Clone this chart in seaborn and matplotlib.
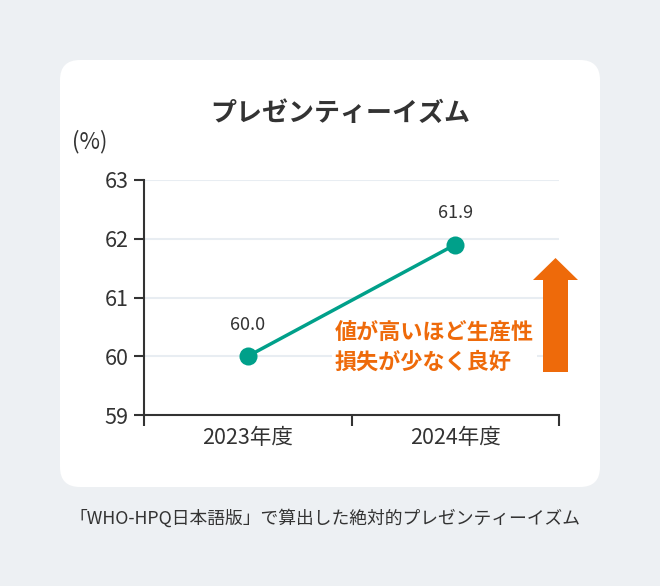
import matplotlib
matplotlib.use("Agg")
import matplotlib.pyplot as plt
import seaborn as sns
import pandas as pd
from matplotlib.patches import FancyBboxPatch, Polygon
from matplotlib.ticker import FixedLocator

# ---- data ----
years = ["2023年度", "2024年度"]
values = [60.0, 61.9]
y_ticks = [59, 60, 61, 62, 63]
title = "プレゼンティーイズム"
unit_label = "(%)"
note_text = "値が高いほど生産性\n損失が少なく良好"
caption = "「WHO-HPQ日本語版」で算出した絶対的プレゼンティーイズム"

sns.set_theme(style="white")
plt.rcParams["font.family"] = ["Noto Sans CJK JP", "DejaVu Sans"]

BG = "#edf0f3"
TEAL = "#00a08a"
ORANGE = "#ee6a0a"
DARK = "#333333"
GRID = "#e8edf2"

W, H = 660, 586
fig = plt.figure(figsize=(W / 100, H / 100), dpi=100, facecolor=BG)

# white card
card = FancyBboxPatch((60, H - 487), 540, 427,
                      boxstyle="round,pad=0,rounding_size=20",
                      transform=None, facecolor="white", edgecolor="none", zorder=-5)
fig.patches.append(card)

ax = fig.add_axes([144 / W, 1 - 415 / H, (559 - 144) / W, (415 - 180) / H])
ax.set_facecolor("none")
ax.set_zorder(2)

df = pd.DataFrame({"year": years, "value": values})
sns.lineplot(data=df, x="year", y="value", ax=ax, color=TEAL, linewidth=2.5,
             marker="o", markersize=13, markeredgewidth=0, zorder=3)

ax.set_xlim(-0.5, len(years) - 0.5)
ax.set_ylim(min(y_ticks), max(y_ticks))
ax.set_yticks(y_ticks)
ax.set_xticks(range(len(years)))
ax.set_xticklabels(years)
ax.xaxis.set_minor_locator(FixedLocator([i - 0.5 for i in range(len(years) + 1)]))
ax.set_xlabel("")
ax.set_ylabel("")

ax.tick_params(axis="x", which="major", bottom=True, length=0, pad=9,
               labelsize=15.5, labelcolor=DARK)
ax.tick_params(axis="x", which="minor", bottom=True, length=8, width=1.5,
               color=DARK, direction="out")
ax.tick_params(axis="y", which="major", left=True, length=7, width=1.5, color=DARK,
               direction="out", pad=4, labelsize=15.5, labelcolor=DARK)

for s in ["top", "right"]:
    ax.spines[s].set_visible(False)
for s in ["left", "bottom"]:
    ax.spines[s].set_color(DARK)
    ax.spines[s].set_linewidth(1.5)

ax.grid(axis="y", color=GRID, linewidth=1.5, zorder=0)
ax.set_axisbelow(True)

for i, v in enumerate(values):
    ax.annotate(f"{v:.1f}", (i, v), xytext=(0, 22.5), textcoords="offset points",
                ha="center", va="center", fontsize=13, color=DARK)

ax.text((335 - 144) / 415, (415 - 347) / 235, note_text, transform=ax.transAxes,
        ha="left", va="center", fontsize=15.9, fontweight="bold", color=ORANGE,
        linespacing=1.42, zorder=4,
        bbox=dict(facecolor="white", edgecolor="none", pad=2))

# up arrow (decoration)
arrow_px = [(543, 372), (568, 372), (568, 280), (578, 280), (555.5, 258),
            (533, 280), (543, 280)]
arrow = Polygon([(x / W, 1 - y / H) for x, y in arrow_px], closed=True,
                transform=fig.transFigure, facecolor=ORANGE, edgecolor="none", zorder=5)
fig.patches.append(arrow)

fig.text(340.5 / W, 1 - 113 / H, title, ha="center", va="center",
         fontsize=18.7, fontweight="bold", color=DARK)
fig.text(72 / W, 1 - 142 / H, unit_label, ha="left", va="center",
         fontsize=16, color=DARK)
fig.text(69 / W, 1 - 518 / H, caption, ha="left", va="center",
         fontsize=12.8, color=DARK)

fig.savefig("out.png", dpi=100, facecolor=BG)
